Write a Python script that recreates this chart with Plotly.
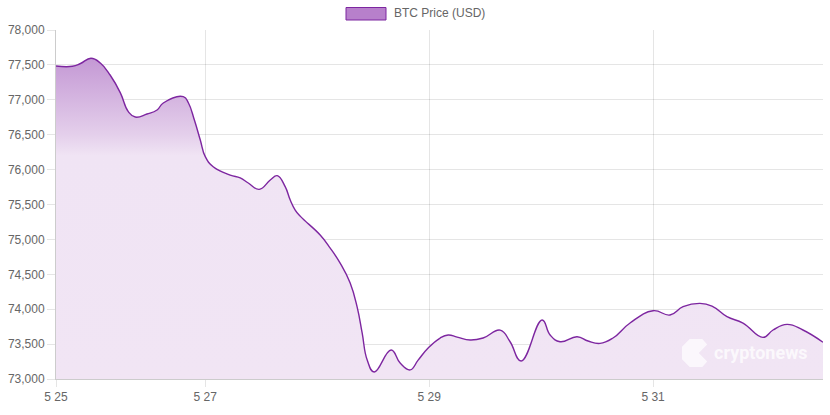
import plotly.graph_objects as go

# ---- data ----
times = [
    "2024-05-25 16:00", "2024-05-25 19:30", "2024-05-25 21:15", "2024-05-25 23:30",
    "2024-05-26 01:30", "2024-05-26 03:36", "2024-05-26 05:48", "2024-05-26 07:30",
    "2024-05-26 09:00", "2024-05-26 11:30", "2024-05-26 13:40", "2024-05-26 15:00",
    "2024-05-26 19:18", "2024-05-26 20:24", "2024-05-26 21:40", "2024-05-26 22:56",
    "2024-05-27 00:00", "2024-05-27 01:42", "2024-05-27 05:21", "2024-05-27 07:30",
    "2024-05-27 09:13", "2024-05-27 11:34", "2024-05-27 13:56", "2024-05-27 15:26",
    "2024-05-27 17:08", "2024-05-27 18:13", "2024-05-27 19:17", "2024-05-27 20:24",
    "2024-05-28 00:38", "2024-05-28 02:47", "2024-05-28 04:55", "2024-05-28 07:04",
    "2024-05-28 08:34", "2024-05-28 09:38", "2024-05-28 10:43", "2024-05-28 12:13",
    "2024-05-28 15:51", "2024-05-28 17:47", "2024-05-28 19:56",
    "2024-05-28 21:38", "2024-05-28 23:47", "2024-05-29 02:21", "2024-05-29 04:04",
    "2024-05-29 06:00", "2024-05-29 08:47", "2024-05-29 11:34", "2024-05-29 15:13",
    "2024-05-29 17:21", "2024-05-29 19:43", "2024-05-30 00:13",
    "2024-05-30 01:56", "2024-05-30 04:04", "2024-05-30 07:43", "2024-05-30 10:04",
    "2024-05-30 12:38", "2024-05-30 15:25", "2024-05-30 19:04", "2024-05-31 00:00",
    "2024-05-31 03:38", "2024-05-31 06:26", "2024-05-31 10:04", "2024-05-31 12:38",
    "2024-05-31 15:51", "2024-05-31 19:17", "2024-05-31 23:34", "2024-06-01 01:43",
    "2024-06-01 04:43", "2024-06-01 08:08", "2024-06-01 12:26",
]
prices = [
    77484, 77480, 77520, 77595,
    77527, 77355, 77100, 76830,
    76753, 76796, 76854, 76954,
    77045, 76954, 76710, 76424,
    76185, 76042, 75922, 75880,
    75808, 75717, 75851, 75913,
    75755, 75564, 75421, 75330,
    75063, 74876, 74660, 74375,
    74030, 73660, 73272, 73100,
    73415, 73228, 73130,
    73270, 73444, 73587, 73630,
    73600, 73558, 73587, 73700,
    73534, 73258, 73845,
    73630, 73534, 73606, 73544,
    73510, 73587, 73802, 73978,
    73917, 74036, 74084, 74045,
    73893, 73802, 73597, 73702,
    73783, 73702, 73526,
]
tick_dates = ["2024-05-25 16:00", "2024-05-27 00:00", "2024-05-29 00:00", "2024-05-31 00:00"]
tick_labels = ["5 25", "5 27", "5 29", "5 31"]
y_ticks = list(range(73000, 78001, 500))
series_name = "BTC Price (USD)"

LINE = "rgb(125,38,160)"
FONT = "Liberation Sans, Arial, Helvetica, sans-serif"
GRID = "rgba(0,0,0,0.1)"

fig = go.Figure()
fig.add_trace(go.Scatter(
    x=times, y=prices, mode="lines", name=series_name,
    line=dict(color=LINE, width=1.4, shape="spline", smoothing=1.3),
    fill="tozeroy",
    fillgradient=dict(
        type="vertical", start=73000, stop=78000,
        colorscale=[[0.0, "rgb(241,229,244)"], [0.64, "rgb(240,228,244)"],
                    [0.70, "rgb(228,207,235)"], [1.0, "rgb(184,132,204)"]],
    ),
    showlegend=False, hoverinfo="skip",
))

# helpers to place decoration in paper coordinates from pixel positions
L, R, T, B = 56, 823, 30, 379
def px(x):
    return (x - L) / (R - L)
def py(y):
    return (B - y) / (B - T)

shapes = [
    dict(type="rect", xref="paper", yref="paper",
         x0=px(346), x1=px(386), y0=py(20), y1=py(7.5),
         fillcolor="rgb(183,128,203)", line=dict(color=LINE, width=1)),
]
# watermark logo (approximate octagon)
cx, cy, r = 696, 353, 14
pts = [(cx - r * 0.45, cy - r), (cx + r * 0.45, cy - r), (cx + r * 0.8, cy - r * 0.6),
       (cx + r * 0.2, cy), (cx + r * 0.8, cy + r * 0.6), (cx + r * 0.45, cy + r),
       (cx - r * 0.45, cy + r), (cx - r, cy + r * 0.45), (cx - r, cy - r * 0.45)]
path = "M " + " L ".join(f"{px(a):.5f},{py(b):.5f}" for a, b in pts) + " Z"
shapes.append(dict(type="path", xref="paper", yref="paper", path=path,
                   fillcolor="rgba(255,255,255,0.7)", line=dict(width=0)))

annotations = [
    dict(text=series_name, xref="paper", yref="paper", x=px(392), y=py(13.5),
         xanchor="left", yanchor="middle", showarrow=False,
         font=dict(family=FONT, size=12, color="#666")),
    dict(text="<b>cryptonews</b>", xref="paper", yref="paper", x=px(761), y=py(352),
         xanchor="center", yanchor="middle", showarrow=False,
         font=dict(family="Roboto, Liberation Sans, sans-serif", size=18,
                   color="rgba(255,255,255,0.75)")),
]

fig.update_layout(
    width=830, height=415,
    margin=dict(l=L, r=830 - R, t=T, b=415 - B),
    paper_bgcolor="white", plot_bgcolor="white",
    font=dict(family=FONT, size=12, color="#666"),
    shapes=shapes, annotations=annotations,
    showlegend=False, hovermode=False,
)
fig.update_xaxes(
    type="date", range=[times[0], times[-1]],
    tickvals=tick_dates, ticktext=tick_labels,
    showgrid=True, gridcolor=GRID, gridwidth=1,
    ticks="outside", ticklen=7, tickcolor=GRID,
    showline=True, linecolor="rgba(0,0,0,0.2)", linewidth=1,
    tickfont=dict(family=FONT, size=12, color="#666"),
    zeroline=False,
)
fig.update_yaxes(
    range=[73000, 78000], tickvals=y_ticks,
    tickformat=",d",
    showgrid=True, gridcolor=GRID, gridwidth=1,
    ticks="outside", ticklen=8, tickcolor=GRID,
    showline=True, linecolor="rgba(0,0,0,0.2)", linewidth=1,
    tickfont=dict(family=FONT, size=12, color="#666"),
    zeroline=False,
)

fig.write_html("out.html")
